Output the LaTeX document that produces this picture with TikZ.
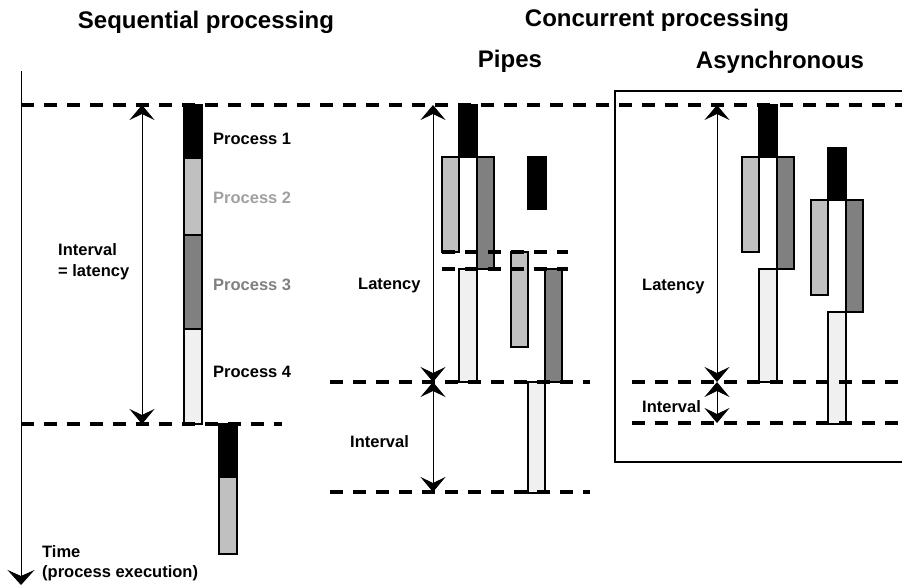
\documentclass[tikz,border=0pt]{standalone}
\usepackage{fontspec}
\setmainfont{Liberation Sans}
\usepackage{xcolor}
\usepackage{tikz}
\usetikzlibrary{arrows.meta}

\definecolor{procA}{HTML}{000000}
\definecolor{procB}{HTML}{C0C0C0}
\definecolor{procC}{HTML}{808080}
\definecolor{procD}{HTML}{F0F0F0}
\definecolor{txtB}{HTML}{A0A0A0}

\begin{document}
\begin{tikzpicture}[
		x=1pt,y=-1pt,
		font=\bfseries\fontsize{16.5}{20}\selectfont,
		title/.style={font=\bfseries\fontsize{24}{28}\selectfont,inner sep=0pt},
		lbl/.style={anchor=west,inner sep=0pt,align=left},
		procbar/.style={draw,line width=1.1pt},
		cutline/.style={line width=4pt,dash pattern=on 13pt off 10pt},
		dimarrow/.style={{Stealth[length=15pt,width=25pt,inset=6pt]}-{Stealth[length=15pt,width=25pt,inset=6pt]},line width=0.9pt},
		timeaxis/.style={-{Stealth[length=15pt,width=27pt,inset=6pt]},line width=0.9pt}
		]
		\useasboundingbox (0,0) rectangle (902,586);

		\node[title] (seqT) at (206,22) {Sequential processing};
		\node[title] (conT) at (657,20) {Concurrent processing};
		\node[title] (pipT) at (510,61) {Pipes};
		\node[title] (asyT) at (780,62) {Asynchronous};

		% asynchronous frame
		\draw[line width=1.2pt] (904,91) -| (615,462) -- (904,462);

		% sequential
		\draw[procbar,fill=procA] (184,105) rectangle (202,158);
		\draw[procbar,fill=procB] (184,158) rectangle (202,235);
		\draw[procbar,fill=procC] (184,235) rectangle (202,329);
		\draw[procbar,fill=procD] (184,329) rectangle (202,424);
		\draw[procbar,fill=procA] (219,424) rectangle (237,477);
		\draw[procbar,fill=procB] (219,477) rectangle (237,554);

		% pipes
		\draw[procbar,fill=procA] (459,105) rectangle (477,157);
		\draw[procbar,fill=procB] (442,157) rectangle (459,252);
		\draw[procbar,fill=procC] (477,157) rectangle (494,269);
		\draw[procbar,fill=procD] (459,269) rectangle (477,382);
		\draw[procbar,fill=procA] (528,157) rectangle (546,209);
		\draw[procbar,fill=procB] (511,252) rectangle (528,347);
		\draw[procbar,fill=procC] (545,269) rectangle (562,382);
		\draw[procbar,fill=procD] (528,382) rectangle (545,493);

		% asynchronous
		\draw[procbar,fill=procA] (759,105) rectangle (777,157);
		\draw[procbar,fill=procB] (742,157) rectangle (759,252);
		\draw[procbar,fill=procC] (777,157) rectangle (794,269);
		\draw[procbar,fill=procD] (759,269) rectangle (777,382);
		\draw[procbar,fill=procA] (828,148) rectangle (846,200);
		\draw[procbar,fill=procB] (811,200) rectangle (828,295);
		\draw[procbar,fill=procC] (846,200) rectangle (863,312);
		\draw[procbar,fill=procD] (828,312) rectangle (846,424);

		% levels
		\draw[cutline] (21,105) -- (902,105);
		\draw[cutline] (21,424) -- (282,424);
		\draw[cutline] (442,252) -- (568,252);
		\draw[cutline] (442,269) -- (568,269);
		\draw[cutline] (330,382) -- (590,382);
		\draw[cutline] (330,492) -- (590,492);
		\draw[cutline] (632,382) -- (902,382);
		\draw[cutline] (632,423) -- (902,423);

		\coordinate (tTop) at (21,71);
		\coordinate (tEnd) at (21,585);
		\coordinate (sA) at (142,105);
		\coordinate (sB) at (142,424);
		\coordinate (pA) at (433,105);
		\coordinate (pB) at (433,382);
		\coordinate (pC) at (433,492);
		\coordinate (aA) at (717,105);
		\coordinate (aB) at (717,382);
		\coordinate (aC) at (717,423);

		\draw[timeaxis] (tTop) -- (tEnd);
		\draw[dimarrow] (sA) -- (sB);
		\draw[dimarrow] (pA) -- (pB);
		\draw[dimarrow] (pB) -- (pC);
		\draw[dimarrow] (aA) -- (aB);
		\draw[dimarrow] (aB) -- (aC);

		\node[lbl] (p1) at (213,139) {Process 1};
		\node[lbl,text=txtB] (p2) at (213,198) {Process 2};
		\node[lbl,text=procC] (p3) at (213,285) {Process 3};
		\node[lbl] (p4) at (213,372) {Process 4};
		\node[lbl,font=\bfseries\fontsize{16.5}{21}\selectfont] (seqI) at (58,261.5) {Interval\\= latency};
		\node[lbl] (pipL) at (358,286) {Latency};
		\node[lbl] (pipI) at (350,442) {Interval};
		\node[lbl] (asyL) at (642,287) {Latency};
		\node[lbl] (asyI) at (642,407) {Interval};
		\node[lbl] (time) at (42,563) {Time\\(process execution)};
	\end{tikzpicture}
\end{document}
